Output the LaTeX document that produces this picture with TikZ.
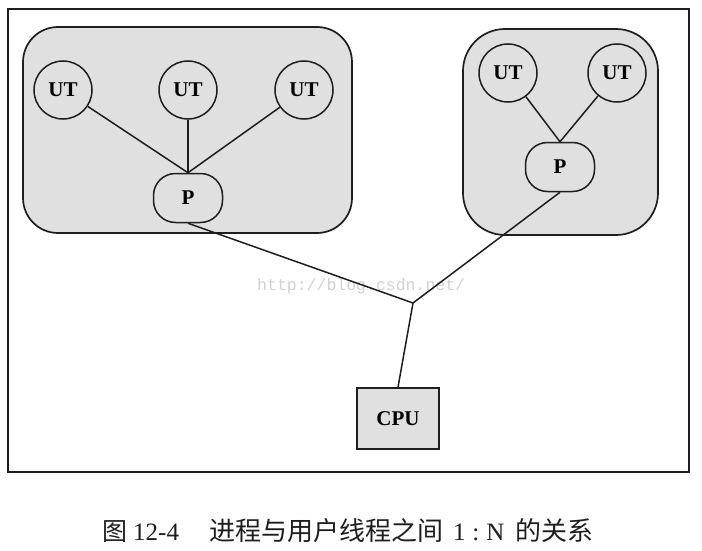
\documentclass[tikz,border=0pt]{standalone}
\usepackage{fontspec}
\setmainfont{Liberation Serif}
\newfontfamily\cjk{Noto Sans CJK SC}
\newfontfamily\monowm{Liberation Mono}
\definecolor{ink}{HTML}{1E1E1E}
\definecolor{grp}{HTML}{E0E0E0}
\definecolor{wm}{HTML}{D2D2D2}
\begin{document}
\begin{tikzpicture}[x=1pt,y=-1pt,
  line/.style={draw=ink,line width=1.5pt},
  group/.style={draw=ink,line width=1.7pt,fill=grp},
  utnode/.style={circle,draw=ink,line width=1.5pt,fill=grp,minimum size=58pt,inner sep=0pt,
    font=\fontsize{21}{22}\selectfont\bfseries},
  pnode/.style={rectangle,rounded corners=22pt,draw=ink,line width=1.5pt,fill=grp,
    minimum width=69pt,minimum height=49pt,inner sep=0pt,font=\fontsize{21}{22}\selectfont\bfseries},
  cpubox/.style={rectangle,draw=ink,line width=1.7pt,fill=grp,minimum width=82pt,minimum height=61pt,
    inner sep=0pt,font=\fontsize{21}{22}\selectfont\bfseries}]
\useasboundingbox (0,0) rectangle (702,551);
\fill[white] (0,0) rectangle (702,551);
% outer frame
\draw[draw=ink,line width=1.9pt] (8,9) rectangle (689,472);
% groups
\draw[group,rounded corners=35pt] (23,27) rectangle (352,233);
\draw[group,rounded corners=42pt] (463,29) rectangle (658,235);
% watermark
\node[font=\monowm\fontsize{16.5}{17}\selectfont,text=wm,anchor=west,inner sep=0pt] (wmark) at (257,286) {http://blog.csdn.net/};
% nodes
\node[utnode] (ua) at (63,90) {UT};
\node[utnode] (ub) at (188,90) {UT};
\node[utnode] (uc) at (304,90) {UT};
\node[pnode] (pa) at (188,198) {P};
\node[utnode] (ud) at (508,73) {UT};
\node[utnode] (ue) at (617,73) {UT};
\node[pnode] (pb) at (560,167) {P};
\node[cpubox] (cpu) at (398,418.5) {CPU};
\coordinate (j) at (413,303);
% connectors
\draw[line] (ua) -- (pa.north);
\draw[line] (ub) -- (pa.north);
\draw[line] (uc) -- (pa.north);
\draw[line] (ud) -- (pb.north);
\draw[line] (ue) -- (pb.north);
\draw[line] (pa.south) -- (j);
\draw[line] (pb.south) -- (j);
\draw[line] (j) -- (cpu.north);
% caption
\node[anchor=west,inner sep=0pt,font=\fontsize{25}{26}\selectfont,text=ink] (cap) at (102,531)
  {{\cjk 图}\hspace{6pt}12-4\hspace{30pt}{\cjk\fontsize{26}{26}\selectfont 进程与用户线程之间}\hspace{10pt}1\hspace{7pt}:\hspace{7pt}N\hspace{11pt}{\cjk\fontsize{26}{26}\selectfont 的关系}};
\end{tikzpicture}
\end{document}
